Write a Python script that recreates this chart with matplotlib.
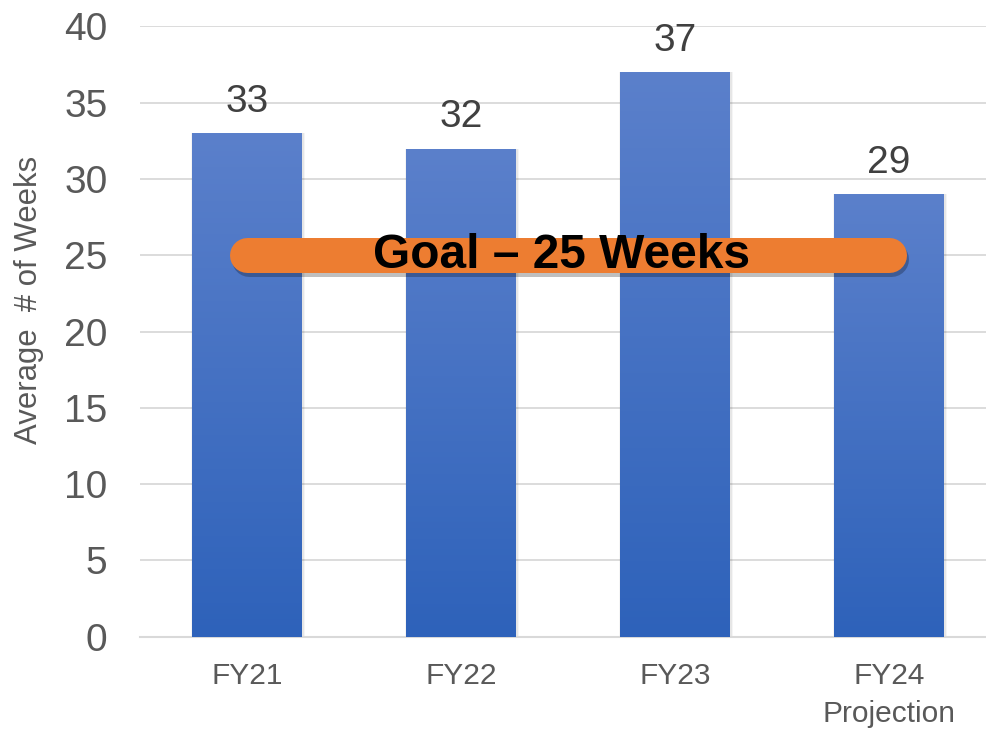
import numpy as np
import matplotlib.pyplot as plt
import matplotlib.patheffects as pe
from matplotlib.colors import LinearSegmentedColormap

categories = ['FY21', 'FY22', 'FY23', 'FY24\nProjection']
weeks = [33, 32, 37, 29]
goal = 25
goal_label = 'Goal \u2013 25 Weeks'
yticks = [0, 5, 10, 15, 20, 25, 30, 35, 40]

plt.rcParams['font.family'] = ['Liberation Sans', 'DejaVu Sans']

fig = plt.figure(figsize=(9.87, 7.30), dpi=100)
ax = fig.add_axes([0.1418, 0.1278, 0.8582, 0.8359])

x = np.arange(len(categories))
bar_w = 0.51

# bar gradient, lighter on top
cmap = LinearSegmentedColormap.from_list('bars', ['#2e62ba', '#5b80cb'])
grad = np.linspace(0, 1, 256).reshape(-1, 1)

bars = ax.bar(x, weeks, width=bar_w, color='none', zorder=3)
for b, v in zip(bars, weeks):
    # soft shadow around the bar
    for k, a in [(0.022, 0.04), (0.012, 0.06)]:
        ax.bar(b.get_x() + b.get_width() / 2 + 0.004, v, width=bar_w + k,
               color='#000000', alpha=a, zorder=2)
    im = ax.imshow(grad, cmap=cmap, aspect='auto', origin='lower',
                   extent=[b.get_x(), b.get_x() + b.get_width(), 0, v],
                   zorder=3)
    im.set_clip_path(b)
    ax.text(b.get_x() + b.get_width() / 2, v + 0.9, str(v),
            ha='center', va='bottom', fontsize=28, color='#404040', zorder=5)

# goal band
ax.plot([x[0], x[-1]], [goal, goal], color='#ed7d31', lw=25.2,
        solid_capstyle='round', zorder=4,
        path_effects=[pe.SimpleLineShadow(offset=(1.5, -3), shadow_color='black',
                                          alpha=0.25),
                      pe.Normal()])
ax.text((x[0] + x[-1]) / 2 - 0.03, goal, goal_label, ha='center', va='center',
        fontsize=34.5, fontweight='bold', color='black', zorder=6)

ax.set_xlim(-0.5, 3.458)
ax.set_ylim(0, 40)
ax.set_yticks(yticks)
ax.set_xticks(x)
ax.set_xticklabels(categories, fontsize=21.5, color='#595959', linespacing=1.45)
ax.tick_params(axis='y', labelsize=28, labelcolor='#595959', length=0, pad=23.5)
ax.tick_params(axis='x', length=0, pad=18)
ax.yaxis.grid(True, color='#d9d9d9', lw=1.3, zorder=0)
ax.set_axisbelow(True)
for s in ax.spines.values():
    s.set_visible(False)
ax.spines['bottom'].set_visible(True)
ax.spines['bottom'].set_color('#d9d9d9')
ax.spines['bottom'].set_linewidth(1.5)

ax.set_ylabel('Average  # of Weeks', fontsize=22.4, color='#595959')
ax.yaxis.set_label_coords(-0.113, 0.552)

fig.savefig('out.png', dpi=100)
